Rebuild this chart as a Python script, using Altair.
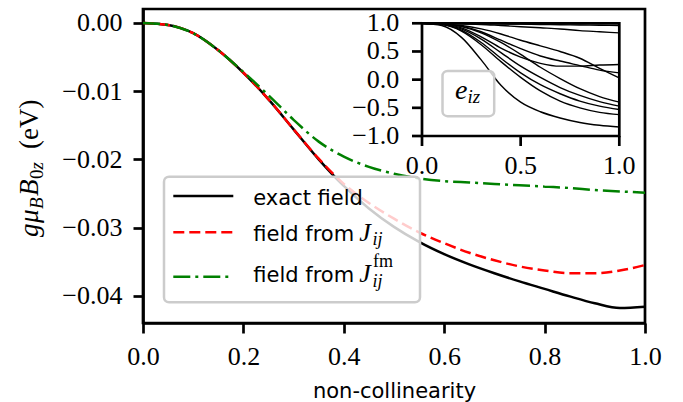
import altair as alt
import pandas as pd

# ---------------- data ----------------
x_main = [0.0, 0.05, 0.1, 0.15, 0.2, 0.25, 0.3, 0.35, 0.4, 0.45, 0.5,
          0.55, 0.6, 0.65, 0.7, 0.75, 0.8, 0.85, 0.9, 0.95, 1.0]
exact_field = [0.0, -0.0003, -0.0015, -0.0040, -0.0073, -0.0112, -0.0156, -0.0200, -0.0239, -0.0272, -0.0299,
               -0.0321, -0.0339, -0.0354, -0.0367, -0.0379, -0.0390, -0.0401, -0.0411, -0.0418, -0.0416]
field_J = [0.0, -0.0003, -0.0015, -0.0040, -0.0073, -0.0112, -0.0156, -0.0199, -0.0236, -0.0264, -0.0287,
           -0.0307, -0.0323, -0.0337, -0.0348, -0.0357, -0.0363, -0.0367, -0.0367, -0.0363, -0.0355]
field_Jfm = [0.0, -0.0003, -0.0015, -0.0040, -0.0072, -0.0106, -0.0142, -0.0174, -0.0196, -0.0211, -0.0221,
             -0.0228, -0.0232, -0.0234, -0.0236, -0.0238, -0.0240, -0.0242, -0.0245, -0.0247, -0.0249]
x_ticks_main = [0.0, 0.2, 0.4, 0.6, 0.8, 1.0]
y_ticks_main = [-0.04, -0.03, -0.02, -0.01, 0.0]

x_inset = [0.0, 0.1, 0.2, 0.3, 0.4, 0.5, 0.6, 0.7, 0.8, 0.9, 1.0]
e_a = [1.0, 1.0, 1.0, 0.995, 0.99, 0.985, 0.98, 0.975, 0.97, 0.965, 0.96]
e_b = [1.0, 1.0, 0.99, 0.98, 0.96, 0.94, 0.92, 0.90, 0.87, 0.85, 0.83]
e_c = [1.0, 0.99, 0.96, 0.90, 0.81, 0.70, 0.60, 0.50, 0.38, 0.20, 0.03]
e_d = [1.0, 0.99, 0.95, 0.85, 0.70, 0.55, 0.42, 0.33, 0.25, 0.17, 0.12]
e_e = [1.0, 0.99, 0.92, 0.76, 0.56, 0.40, 0.29, 0.24, 0.24, 0.26, 0.27]
e_f = [1.0, 0.99, 0.94, 0.83, 0.66, 0.45, 0.22, 0.02, -0.16, -0.30, -0.40]
e_g = [1.0, 0.98, 0.90, 0.72, 0.48, 0.24, 0.04, -0.14, -0.28, -0.39, -0.47]
e_h = [1.0, 0.98, 0.88, 0.66, 0.38, 0.12, -0.09, -0.25, -0.38, -0.47, -0.53]
e_i = [1.0, 0.98, 0.86, 0.62, 0.32, 0.04, -0.20, -0.38, -0.50, -0.58, -0.62]
e_j = [1.0, 0.96, 0.75, 0.35, -0.10, -0.40, -0.57, -0.68, -0.76, -0.81, -0.84]
inset_curves = [e_a, e_b, e_c, e_d, e_e, e_f, e_g, e_h, e_i, e_j]
inset_x_ticks = [0.0, 0.5, 1.0]
inset_y_ticks = [-1.0, -0.5, 0.0, 0.5, 1.0]

SERIF = "Liberation Serif"
SANS = "DejaVu Sans"
AXW = 2.7

# ---------------- main plot ----------------
xsc = alt.Scale(domain=[0, 1], nice=False, zero=False)
ysc = alt.Scale(domain=[-0.0440, 0.00205], nice=False, zero=False)
xaxis = alt.Axis(values=x_ticks_main, format=".1f", title="non-collinearity",
                 labelFlush=False, labelOverlap=False, labelPadding=10, titlePadding=11)
yaxis = alt.Axis(values=y_ticks_main, format=".2f", title=None,
                 labelOverlap=False, labelPadding=11)


def main_line(vals, color, dash=None):
    df = pd.DataFrame({"x": x_main, "y": vals})
    kw = dict(color=color, strokeWidth=2.5, interpolate="monotone")
    if dash:
        kw["strokeDash"] = dash
    return alt.Chart(df).mark_line(**kw).encode(
        x=alt.X("x:Q", scale=xsc, axis=xaxis),
        y=alt.Y("y:Q", scale=ysc, axis=yaxis),
    )


one = pd.DataFrame({"k": [0]})


def txt(s, x, y, size, font=SERIF, style="normal", align="left", angle=None, baseline="alphabetic"):
    kw = dict(text=s, font=font, fontSize=size, fontStyle=style, align=align,
              baseline=baseline, color="black")
    if angle is not None:
        kw["angle"] = angle
    return alt.Chart(one).mark_text(**kw).encode(x=alt.value(x), y=alt.value(y))


def hrule(x1, x2, y, color, dash=None):
    kw = dict(color=color, strokeWidth=2.5)
    if dash:
        kw["strokeDash"] = dash
    return alt.Chart(one).mark_rule(**kw).encode(x=alt.value(x1), x2=alt.value(x2), y=alt.value(y))


lines = [
    main_line(exact_field, "black"),
    main_line(field_J, "#ff0000", [11, 5]),
    main_line(field_Jfm, "#008000", [17, 5, 3, 5]),
]

legend_box = alt.Chart(one).mark_rect(
    fill="white", fillOpacity=0.8, stroke="#cccccc", strokeWidth=2.5, cornerRadius=5
).encode(x=alt.value(21), x2=alt.value(277), y=alt.value(167.7), y2=alt.value(293.3))

legend = [
    legend_box,
    hrule(30.3, 90.3, 187, "black"),
    hrule(30.3, 90.3, 223.3, "#ff0000", [11, 5]),
    hrule(30.3, 90.3, 267.7, "#008000", [17, 5, 3, 5]),
    txt("exact field", 110.3, 196, 21, font=SANS),
    txt("field from", 110.3, 231.7, 21, font=SANS),
    txt("J", 216.3, 231.7, 26, style="italic"),
    txt("ij", 229.5, 236, 18, style="italic"),
    txt("field from", 110.3, 272.7, 21, font=SANS),
    txt("J", 216.3, 272.7, 26, style="italic"),
    txt("fm", 230, 257.7, 18),
    txt("ij", 229.5, 278, 18, style="italic"),
]

# y axis title  g mu_B B_0z (eV), composed and rotated
ylab = [
    txt("g", -105.5, 228, 27, style="italic", angle=270),
    txt("μ", -105.5, 214, 27, style="italic", angle=270),
    txt("B", -100.5, 200, 19, style="italic", angle=270),
    txt("B", -105.5, 187, 27, style="italic", angle=270),
    txt("0", -100.5, 170, 19, angle=270),
    txt("z", -100.5, 160.5, 19, style="italic", angle=270),
    txt("(eV)", -105.5, 140, 27, angle=270),
]

main = alt.layer(*lines, *legend, *ylab)

# ---------------- inset ----------------
xs_in = alt.Scale(domain=[0, 1], range=[279, 476.3], nice=False, zero=False)
ys_in = alt.Scale(domain=[-1, 1], range=[127, 14.3], nice=False, zero=False)

frame_df = pd.DataFrame({"x0": [0.0], "x1": [1.0], "y0": [-1.0], "y1": [1.0]})
frame_enc = dict(
    x=alt.X("x0:Q", scale=xs_in, axis=None),
    x2="x1:Q",
    y=alt.Y("y0:Q", scale=ys_in, axis=None),
    y2="y1:Q",
)
inset_bg = alt.Chart(frame_df).mark_rect(fill="white", strokeWidth=0).encode(**frame_enc)
inset_frame = alt.Chart(frame_df).mark_rect(
    fill="white", fillOpacity=0, stroke="black", strokeWidth=AXW
).encode(**frame_enc)

rows = []
for ci, curve in enumerate(inset_curves):
    for xv, yv in zip(x_inset, curve):
        rows.append({"curve": ci, "x": xv, "y": yv})
inset_df = pd.DataFrame(rows)
inset_lines = alt.Chart(inset_df).mark_line(
    color="black", strokeWidth=1.4, interpolate="monotone"
).encode(
    x=alt.X("x:Q", scale=xs_in, axis=None),
    y=alt.Y("y:Q", scale=ys_in, axis=None),
    detail="curve:N",
)

ytick_df = pd.DataFrame({"v": inset_y_ticks, "left": [0.0] * len(inset_y_ticks)})
xtick_df = pd.DataFrame({"v": inset_x_ticks, "bottom": [-1.0] * len(inset_x_ticks)})

inset_yticks = alt.Chart(ytick_df).mark_rule(color="black", strokeWidth=AXW, x2Offset=-10).encode(
    x=alt.X("left:Q", scale=xs_in, axis=None), x2="left:Q",
    y=alt.Y("v:Q", scale=ys_in, axis=None),
)
inset_ylabels = alt.Chart(ytick_df).mark_text(
    font=SERIF, fontSize=26, align="right", baseline="middle", dx=-22.7, color="black"
).encode(
    x=alt.X("left:Q", scale=xs_in, axis=None),
    y=alt.Y("v:Q", scale=ys_in, axis=None),
    text=alt.Text("v:Q", format=".1f"),
)
inset_xticks = alt.Chart(xtick_df).mark_rule(color="black", strokeWidth=AXW, y2Offset=10).encode(
    x=alt.X("v:Q", scale=xs_in, axis=None),
    y=alt.Y("bottom:Q", scale=ys_in, axis=None), y2="bottom:Q",
)
inset_xlabels = alt.Chart(xtick_df).mark_text(
    font=SERIF, fontSize=26, align="center", baseline="alphabetic", dy=38, color="black"
).encode(
    x=alt.X("v:Q", scale=xs_in, axis=None),
    y=alt.Y("bottom:Q", scale=ys_in, axis=None),
    text=alt.Text("v:Q", format=".1f"),
)

eiz_box = alt.Chart(one).mark_rect(
    fill="white", fillOpacity=0.8, stroke="#cccccc", strokeWidth=2.5, cornerRadius=5
).encode(x=alt.value(299.5), x2=alt.value(351.2), y=alt.value(62), y2=alt.value(107.2))

inset = alt.layer(
    inset_bg, inset_lines, inset_frame, inset_yticks, inset_ylabels, inset_xticks, inset_xlabels,
    eiz_box,
    txt("e", 312, 90, 28, style="italic"),
    txt("iz", 324.5, 94, 19, style="italic"),
)

chart = alt.layer(main, inset).resolve_scale(x="independent", y="independent").properties(
    width=502, height=314,
    autosize=alt.AutoSizeParams(type="none"),
    padding={"left": 143, "top": 9, "right": 38, "bottom": 79},
).configure_view(
    stroke="black", strokeWidth=AXW
).configure_axis(
    domainColor="black", domainWidth=AXW, tickColor="black", tickWidth=AXW, tickSize=10,
    labelFont=SERIF, labelFontSize=26, labelColor="black", grid=False,
    titleFont=SANS, titleFontSize=21, titleColor="black", titleFontWeight="normal",
)

chart.save("out.html", embed_options={"renderer": "svg", "actions": False})
